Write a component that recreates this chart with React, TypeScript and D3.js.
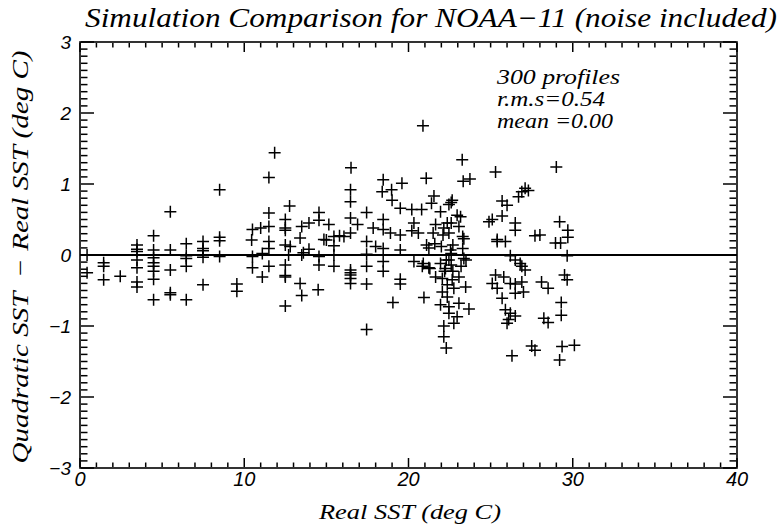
import React from 'react';
import * as d3 from 'd3';

// [real SST, quadratic - real], grouped by temperature band
const coldPoints: [number, number][] = [
  [0.43, 0.0], [0.43, -0.25], [1.44, -0.11], [1.44, -0.16], [1.44, -0.35], [2.45, -0.3],
  [3.47, 0.14], [3.47, 0.08], [3.47, 0.05], [3.47, -0.07], [3.47, -0.18], [3.47, -0.38], [3.47, -0.45],
  [4.48, 0.27], [4.48, 0.07], [4.48, -0.04], [4.48, -0.11], [4.48, -0.16], [4.48, -0.23], [4.48, -0.34], [4.48, -0.63],
  [5.5, 0.61], [5.5, 0.07], [5.5, -0.21], [5.5, -0.53], [5.5, -0.56],
  [6.47, 0.16], [6.47, -0.01], [6.47, -0.05], [6.47, -0.16], [6.47, -0.63],
  [7.49, 0.19], [7.49, 0.09], [7.49, 0.06], [7.49, -0.03], [7.49, -0.42],
  [8.5, 0.92], [8.5, 0.25], [8.5, 0.2], [8.5, -0.02],
  [9.55, -0.41], [9.55, -0.51],
];

const midPoints: [number, number][] = [
  [10.5, 0.36], [10.45, 0.21], [10.5, -0.02], [10.5, -0.18], [11.1, -0.31], [11.1, 0.02], [11.0, 0.38],
  [11.85, 1.44], [11.5, 1.09],
  [11.5, 0.59], [11.5, 0.4], [11.5, 0.19], [11.5, 0.09], [11.5, -0.16],
  [12.5, 0.5], [12.5, 0.38], [12.5, 0.35], [12.5, 0.14], [12.5, -0.14], [12.5, -0.29], [12.5, -0.31], [12.5, -0.72],
  [12.76, 0.69], [12.8, 0.12], [12.7, 0.0],
  [13.5, 0.4], [13.4, 0.24], [13.5, 0.0], [13.6, 0.03], [13.4, -0.4], [13.5, -0.57],
  [13.94, 0.45], [13.94, 0.08],
  [14.55, 0.6], [14.55, 0.49], [14.55, -0.02], [14.55, -0.14], [14.5, -0.49],
  [14.85, 0.22], [15.0, 0.21], [15.15, 0.43],
  [15.46, 0.26], [15.46, 0.13], [15.46, 0.0], [15.46, -0.16],
  [15.8, 0.27], [16.07, 0.26],
  [16.5, 1.23], [16.47, 0.92], [16.47, 0.75], [16.47, 0.52], [16.47, 0.31],
  [16.47, -0.21], [16.47, -0.25], [16.47, -0.28], [16.47, -0.33], [16.47, -0.4],
  [16.9, 0.43],
  [17.45, 0.6], [17.45, 0.19], [17.45, 0.01], [17.45, -0.16], [17.45, -0.41], [17.45, -1.05],
  [17.85, 0.38], [18.0, 0.12],
  [18.46, 1.06], [18.4, 0.89], [18.46, 0.5], [18.46, 0.36], [18.46, 0.09], [18.46, -0.09], [18.46, -0.23],
  [18.97, 0.92], [19.0, 0.77], [19.05, -0.67], [18.9, 0.31],
  [19.6, 1.01], [19.5, 0.66], [19.5, 0.28], [19.5, 0.07], [19.5, -0.34], [19.5, -0.41],
];

const warmPoints: [number, number][] = [
  [20.88, 1.82], [23.27, 1.34], [21.08, 1.08], [23.33, 1.04], [23.74, 1.07],
  [21.55, 0.83], [22.66, 0.77], [21.4, 0.73], [22.46, 0.71], [22.6, 0.74],
  [20.2, 0.64], [20.8, 0.64], [21.95, 0.61], [22.96, 0.56], [23.17, 0.54],
  [20.33, 0.45], [21.65, 0.43], [22.36, 0.45], [22.6, 0.45], [22.15, 0.38], [23.07, 0.4], [24.9, 0.47],
  [20.2, 0.34], [20.6, 0.31], [21.5, 0.31], [22.1, 0.28], [22.46, 0.31], [23.3, 0.26], [23.37, 0.23],
  [21.1, 0.14], [21.6, 0.16], [22.0, 0.12], [22.7, 0.14], [23.3, 0.09], [21.24, 0.1], [22.56, 0.07], [22.6, 0.02],
  [23.37, -0.05], [23.5, -0.07], [20.33, -0.09], [20.9, -0.12], [20.84, -0.16], [21.24, -0.18], [21.3, -0.19],
  [21.95, -0.12], [22.46, -0.07], [22.3, -0.07], [22.6, -0.14], [22.25, -0.19], [22.2, -0.23], [22.7, -0.23], [23.2, -0.16],
  [21.65, -0.31], [22.06, -0.33], [22.66, -0.35], [23.07, -0.31], [22.36, -0.42], [22.76, -0.47], [23.48, -0.45],
  [22.06, -0.52], [20.94, -0.6], [22.36, -0.59], [23.07, -0.68], [23.68, -0.76], [21.95, -0.7], [22.46, -0.73],
  [22.46, -0.82], [22.96, -0.87], [22.76, -0.96], [22.15, -1.0], [22.15, -1.15], [22.3, -1.31],
];

const hotPoints: [number, number][] = [
  [25.3, 1.17], [29.0, 1.24], [27.1, 0.94], [27.3, 0.91], [26.9, 0.89], [26.7, 0.82], [25.7, 0.76], [26.0, 0.7],
  [25.7, 0.55], [25.1, 0.5], [26.5, 0.45], [26.5, 0.35], [25.4, 0.22], [25.4, 0.19], [25.9, 0.19],
  [27.7, 0.27], [28.0, 0.28], [29.2, 0.47], [29.7, 0.35], [29.7, 0.25], [28.95, 0.17], [29.26, 0.17], [29.66, -0.01],
  [26.2, -0.01], [26.5, -0.07], [26.8, -0.12], [26.9, -0.16], [27.1, -0.21], [25.3, -0.28], [25.8, -0.31],
  [25.1, -0.4], [25.4, -0.47], [26.2, -0.4], [26.5, -0.41], [26.9, -0.38], [26.5, -0.54], [27.0, -0.52], [25.7, -0.61],
  [28.1, -0.38], [28.5, -0.47], [29.5, -0.28], [29.66, -0.35], [29.3, -0.67], [29.3, -0.85],
  [25.9, -0.77], [26.2, -0.82], [26.5, -0.86], [26.1, -0.91], [26.0, -0.96], [28.24, -0.89], [28.5, -0.95],
  [27.5, -1.28], [27.7, -1.34], [29.35, -1.29], [30.1, -1.27], [29.2, -1.48], [26.3, -1.42],
];

const xMajor = [0, 10, 20, 30, 40];
const yMajor = [-3, -2, -1, 0, 1, 2, 3];
const statLines = ['300 profiles', 'r.m.s=0.54', 'mean =0.00'];
const statWidths = [123, 108, 116];

const W = 782;
const H = 527;
const left = 80, right = 737, top = 42, bottom = 468;
const serif = '"Liberation Serif", "DejaVu Serif", serif';
const sans = '"Liberation Sans", "DejaVu Sans", sans-serif';

const x = d3.scaleLinear().domain([0, 40]).range([left, right]);
const y = d3.scaleLinear().domain([-3, 3]).range([bottom, top]);
const xMinor = d3.range(0, 41, 1).filter(v => !xMajor.includes(v));
const yMinor = d3.range(-30, 31).map(v => v / 10).filter(v => !yMajor.includes(v));
const allPoints = [...coldPoints, ...midPoints, ...warmPoints, ...hotPoints];

// each tick is a small path translated to its spot, same as the markers
type Tick = { tx: number; ty: number; d: string };
const ticks: Tick[] = [];
const pushX = (vals: number[], len: number) => vals.forEach(v => {
  ticks.push({ tx: x(v), ty: bottom - 1, d: `M0,0V${-len}` });
  ticks.push({ tx: x(v), ty: top + 1, d: `M0,0V${len}` });
});
const pushY = (vals: number[], len: number) => vals.forEach(v => {
  ticks.push({ tx: left + 1, ty: y(v), d: `M0,0H${len}` });
  ticks.push({ tx: right - 1, ty: y(v), d: `M0,0H${-len}` });
});
pushX(xMajor, 9);
pushX(xMinor, 4.5);
pushY(yMajor, 13);
pushY(yMinor, 6.5);

const App = () => (
  <svg width={W} height={H} style={{ position: 'absolute', left: 0, top: 0, background: '#fff' }}>
    <rect x={left} y={top} width={right - left} height={bottom - top} fill="none" stroke="#000" strokeWidth={1.6} />

    {ticks.map((t, i) => (
      <path key={'t' + i} transform={`translate(${t.tx},${t.ty})`} d={t.d}
        stroke="#000" strokeWidth={1.5} fill="none" />
    ))}

    {xMajor.map(v => (
      <text key={'xl' + v} x={x(v)} y={bottom + 18} textAnchor="middle"
        fontFamily={sans} fontStyle="italic" fontSize={20}>{v}</text>
    ))}
    {yMajor.map(v => (
      <text key={'yl' + v} x={left - 9} y={y(v)} dy="0.36em" textAnchor="end"
        fontFamily={sans} fontStyle="italic" fontSize={19}>{v < 0 ? '\u2212' + Math.abs(v) : v}</text>
    ))}

    <line x1={x(0)} x2={x(40)} y1={y(0)} y2={y(0)} stroke="#000" strokeWidth={1.8} />

    {allPoints.map((d, i) => (
      <path key={i} transform={`translate(${x(d[0])},${y(d[1])})`} d="M-6,0H6M0,-6V6"
        stroke="#000" strokeWidth={1.5} fill="none" />
    ))}

    {statLines.map((s, i) => (
      <text key={s} x={497} y={84 + i * 22} fontFamily={serif} fontStyle="italic" fontSize={21}
        textLength={statWidths[i]} lengthAdjust="spacingAndGlyphs">{s}</text>
    ))}

    <text x={431} y={27} textAnchor="middle" fontFamily={serif} fontStyle="italic" fontSize={27}
      textLength={692} lengthAdjust="spacingAndGlyphs">
      Simulation Comparison for NOAA{'\u2212'}11 (noise included)
    </text>
    <text x={410} y={519} textAnchor="middle" fontFamily={serif} fontStyle="italic" fontSize={22}
      textLength={182} lengthAdjust="spacingAndGlyphs">Real SST (deg C)</text>
    <text transform={`translate(28,${(top + bottom) / 2 + 2}) rotate(-90)`} textAnchor="middle"
      fontFamily={serif} fontStyle="italic" fontSize={23} textLength={413} lengthAdjust="spacingAndGlyphs"
      style={{ whiteSpace: 'pre' }}>
      {'Quadratic SST  \u2212 Real SST (deg C)'}
    </text>
  </svg>
);

export default App;
